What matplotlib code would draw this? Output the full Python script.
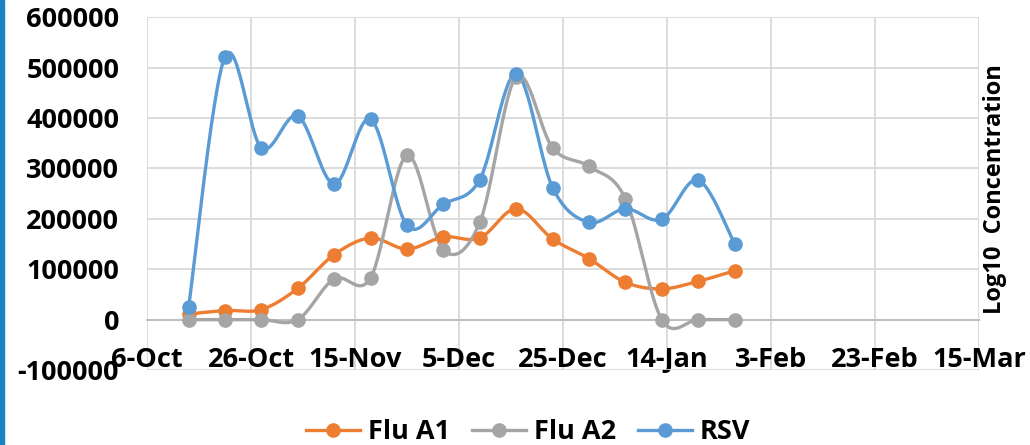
import matplotlib.pyplot as plt
import matplotlib.dates as mdates
import numpy as np
import pandas as pd
from matplotlib.patches import Rectangle


SAMPLE_DATES = ["2022-10-14", "2022-10-21", "2022-10-28", "2022-11-04", "2022-11-11", "2022-11-18",
                "2022-11-25", "2022-12-02", "2022-12-09", "2022-12-16", "2022-12-23", "2022-12-30",
                "2023-01-06", "2023-01-13", "2023-01-20", "2023-01-27"]
FLU_A1 = [11000, 18000, 20000, 62000, 129000, 162000, 140000, 164000, 162000, 220000, 160000, 121000,
          74000, 61000, 76000, 97000]
FLU_A2 = [0, 0, 0, 0, 81000, 83000, 326000, 138000, 193000, 482000, 341000, 304000, 240000, 0, 0, 0]
RSV = [25000, 522000, 341000, 404000, 269000, 398000, 187000, 229000, 278000, 488000, 262000, 193000,
       220000, 199000, 277000, 151000]
TICK_DATES = ["2022-10-06", "2022-10-26", "2022-11-15", "2022-12-05", "2022-12-25", "2023-01-14",
              "2023-02-03", "2023-02-23", "2023-03-15"]
TICK_LABELS = ["6-Oct", "26-Oct", "15-Nov", "5-Dec", "25-Dec", "14-Jan", "3-Feb", "23-Feb", "15-Mar"]
Y_TICKS = [-100000, 0, 100000, 200000, 300000, 400000, 500000, 600000]

FONT = "Open Sans"


def courba_excel(x: np.ndarray, y: np.ndarray, n: int = 30) -> tuple[np.ndarray, np.ndarray]:
    # corba suavitzada tipus Excel (Bezier amb punts de control de Catmull-Rom)
    pts = np.column_stack([x, y]).astype(float)
    xs, ys = [], []
    t = np.linspace(0, 1, n)
    for i in range(len(pts) - 1):
        p0 = pts[max(i - 1, 0)]
        p1 = pts[i]
        p2 = pts[i + 1]
        p3 = pts[min(i + 2, len(pts) - 1)]
        c1 = p1 + (p2 - p0) / 6
        c2 = p2 - (p3 - p1) / 6
        seg = ((1 - t) ** 3)[:, None] * p1 + (3 * (1 - t) ** 2 * t)[:, None] * c1 \
            + (3 * (1 - t) * t ** 2)[:, None] * c2 + (t ** 3)[:, None] * p2
        xs.append(seg[:, 0])
        ys.append(seg[:, 1])
    return np.concatenate(xs), np.concatenate(ys)


dates = mdates.date2num(pd.to_datetime(SAMPLE_DATES))
ticks = mdates.date2num(pd.to_datetime(TICK_DATES))

fig = plt.figure(figsize=(10.3, 4.45), dpi=100)
ax = fig.add_axes([147 / 1030, 1 - 370 / 445, (979 - 147) / 1030, (370 - 17.3) / 445])

for serie, color, label in [(FLU_A1, "#ED7D31", "Flu A1"), (FLU_A2, "#A5A5A5", "Flu A2"), (RSV, "#5B9BD5", "RSV")]:
    cx, cy = courba_excel(dates, np.array(serie))
    ax.plot(cx, cy, color=color, lw=2.4, solid_capstyle="round", zorder=3)
    ax.plot(dates, serie, "o", color=color, ms=9.5, zorder=4)
    ax.plot([], [], "-o", color=color, lw=2.4, ms=9.5, label=label)

ax.set_xlim(ticks[0], ticks[-1])
ax.set_ylim(-100000, 600000)
ax.set_xticks(ticks)
ax.set_xticklabels(TICK_LABELS)
ax.set_yticks(Y_TICKS)
ax.set_yticklabels([str(v) for v in Y_TICKS])
ax.grid(color="#D9D9D9", lw=1.3, zorder=0)
ax.set_axisbelow(True)
for side in ["top", "right", "left"]:
    ax.spines[side].set_visible(False)
ax.spines["bottom"].set_position(("data", 0))
ax.spines["bottom"].set_color("#BFBFBF")
ax.spines["bottom"].set_linewidth(1.5)
ax.tick_params(axis="both", length=0)
ax.tick_params(axis="x", pad=20)
ax.tick_params(axis="y", pad=20)
for lab in ax.get_xticklabels() + ax.get_yticklabels():
    lab.set_fontfamily(FONT)
    lab.set_fontweight("bold")
    lab.set_fontsize(19.5)

fig.text(995 / 1030, 1 - 189 / 445, "Log10  Concentration", rotation=90, ha="center", va="center",
         fontfamily=FONT, fontweight="bold", fontsize=17)

fig.legend(loc="center", bbox_to_anchor=(528 / 1030, 1 - 432 / 445), ncol=3, frameon=False, handlelength=2.0,
           columnspacing=0.8, handletextpad=0.3, prop={"family": FONT, "weight": "bold", "size": 19.5})

fig.add_artist(Rectangle((0, 0), 4 / 1030, 1, transform=fig.transFigure, color="#1B82C5", zorder=0))

fig.savefig("out.png", dpi=100)
